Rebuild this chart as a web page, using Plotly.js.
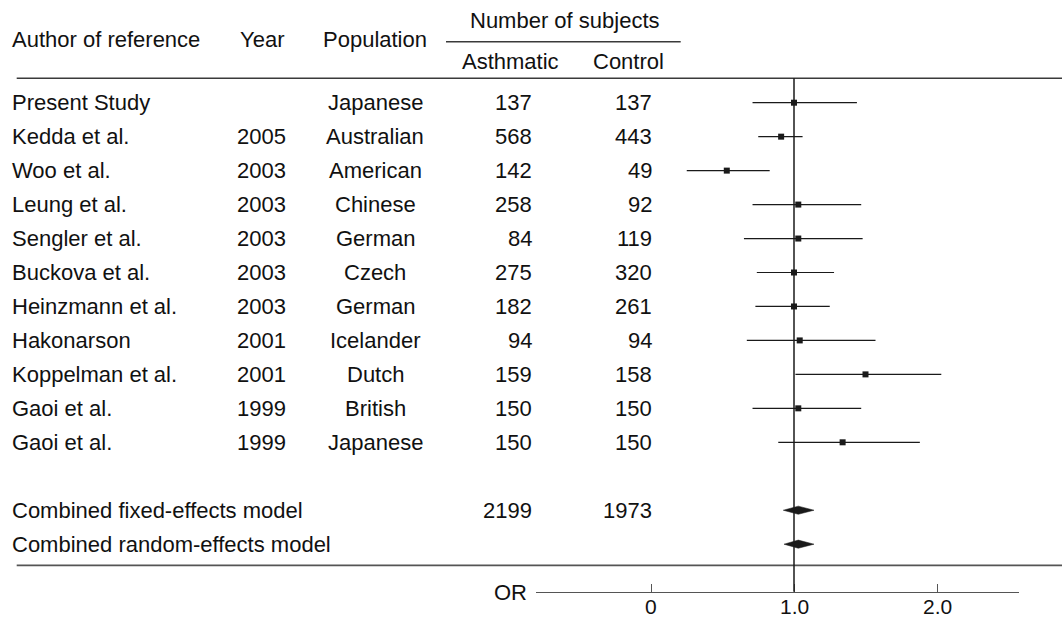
<!DOCTYPE html>
<html>
<head>
<meta charset="utf-8">
<script src="https://cdn.plot.ly/plotly-3.0.1.min.js"></script>
<style>
  html, body { margin: 0; padding: 0; background: #ffffff; }
  #chart { width: 1062px; height: 619px; }
</style>
</head>
<body>
<div id="chart"></div>
<script>
// ---------------- data ----------------
const authors = ['Present Study', 'Kedda et al.', 'Woo et al.', 'Leung et al.', 'Sengler et al.',
  'Buckova et al.', 'Heinzmann et al.', 'Hakonarson', 'Koppelman et al.', 'Gaoi et al.', 'Gaoi et al.'];
const years = ['', '2005', '2003', '2003', '2003', '2003', '2003', '2001', '2001', '1999', '1999'];
const populations = ['Japanese', 'Australian', 'American', 'Chinese', 'German', 'Czech', 'German',
  'Icelander', 'Dutch', 'British', 'Japanese'];
const asthmatic = [137, 568, 142, 258, 84, 275, 182, 94, 159, 150, 150];
const control = [137, 443, 49, 92, 119, 320, 261, 94, 158, 150, 150];
const orEst = [1.00, 0.91, 0.53, 1.03, 1.03, 1.00, 1.00, 1.04, 1.50, 1.03, 1.34];
const ciLow = [0.71, 0.75, 0.25, 0.71, 0.65, 0.74, 0.73, 0.67, 1.01, 0.71, 0.89];
const ciHigh = [1.44, 1.06, 0.83, 1.47, 1.48, 1.28, 1.25, 1.57, 2.03, 1.47, 1.88];

const pooledLabels = ['Combined fixed-effects model', 'Combined random-effects model'];
const pooledAsthmatic = ['2199', ''];
const pooledControl = ['1973', ''];
const pooledEst = [1.03, 1.03];
const pooledLow = [0.925, 0.93];
const pooledHigh = [1.14, 1.14];

const headerAuthor = 'Author of reference';
const headerYear = 'Year';
const headerPopulation = 'Population';
const headerSubjects = 'Number of subjects';
const headerAsthmatic = 'Asthmatic';
const headerControl = 'Control';
const axisLabel = 'OR';
const tickValues = [0, 1, 2];
const tickLabels = ['0', '1.0', '2.0'];

// ---------------- layout helpers ----------------
const W = 1062, H = 619;
const xP = px => px / W;
const yP = px => 1 - px / H;
const ROW0 = 102.7, ROWH = 33.96;
const yTop = -ROW0 / ROWH;
const yBot = (H - ROW0) / ROWH;
const rowOf = px => (px - ROW0) / ROWH;

const FONT = 'Liberation Sans, Arial, Helvetica, sans-serif';
const TXT = '#111111';
const FS = 22;

const n = authors.length;
const pooledRows = pooledLabels.map((_, k) => n + 1 + k);

// ---------------- traces ----------------
const ciX = [], ciY = [];
for (let i = 0; i < n; i++) {
  ciX.push(ciLow[i], ciHigh[i], null);
  ciY.push(i, i, null);
}
const traces = [];
traces.push({
  type: 'scatter', mode: 'lines', x: ciX, y: ciY,
  line: { color: '#1a1a1a', width: 1.2 }, hoverinfo: 'skip', showlegend: false
});
traces.push({
  type: 'scatter', mode: 'markers', x: orEst, y: authors.map((_, i) => i),
  marker: { symbol: 'square', size: 6, color: '#1a1a1a', line: { width: 0 } },
  showlegend: false
});
const dh = 0.12;
pooledLabels.forEach((_, k) => {
  const r = pooledRows[k];
  traces.push({
    type: 'scatter', mode: 'lines', fill: 'toself', fillcolor: '#1a1a1a',
    x: [pooledLow[k], pooledEst[k], pooledHigh[k], pooledEst[k], pooledLow[k]],
    y: [r, r - dh, r, r + dh, r],
    line: { color: '#1a1a1a', width: 0.5 }, showlegend: false
  });
});

// ---------------- annotations ----------------
const ann = [];
function txt(text, xpx, yval, anchor, yref, size) {
  ann.push({
    text: text, x: xP(xpx), xref: 'paper', y: yval, yref: yref || 'y',
    xanchor: anchor, yanchor: 'middle', showarrow: false,
    font: { family: FONT, size: size || FS, color: TXT }
  });
}
// header
txt(headerAuthor, 10, rowOf(39), 'left');
txt(headerYear, 261.5, rowOf(39), 'center');
txt(headerPopulation, 375, rowOf(39), 'center');
txt(headerSubjects, 565, rowOf(20), 'center');
txt(headerAsthmatic, 510, rowOf(61.7), 'center');
txt(headerControl, 628.7, rowOf(61.7), 'center');
// study rows
for (let i = 0; i < n; i++) {
  txt(authors[i], 10, i, 'left');
  if (years[i]) txt(years[i], 261.5, i, 'center');
  txt(populations[i], 375, i, 'center');
  txt(String(asthmatic[i]), 534, i, 'right');
  txt(String(control[i]), 654, i, 'right');
}
// pooled rows
pooledLabels.forEach((lab, k) => {
  const r = pooledRows[k];
  txt(lab, 10, r, 'left');
  if (pooledAsthmatic[k]) txt(pooledAsthmatic[k], 534, r, 'right');
  if (pooledControl[k]) txt(pooledControl[k], 654, r, 'right');
});
// OR label
txt(axisLabel, 529, rowOf(592.7), 'right');
// tick labels placed tight under the OR axis, at the axis' own tick values
tickValues.forEach((v, k) => {
  ann.push({
    text: tickLabels[k], x: v, xref: 'x', y: yP(606), yref: 'paper',
    xanchor: 'center', yanchor: 'middle', showarrow: false,
    font: { family: FONT, size: 21, color: TXT }
  });
});

// ---------------- shapes ----------------
const axisPx = 591.7;
const shapes = [
  // header rule
  { type: 'line', xref: 'paper', yref: 'paper', x0: xP(16.7), x1: 1, y0: yP(78.3), y1: yP(78.3),
    line: { color: '#3a3a3a', width: 1.6 } },
  // under "Number of subjects"
  { type: 'line', xref: 'paper', yref: 'paper', x0: xP(446), x1: xP(680.7), y0: yP(41.7), y1: yP(41.7),
    line: { color: '#3a3a3a', width: 1.6 } },
  // bottom separator
  { type: 'line', xref: 'paper', yref: 'paper', x0: xP(16.7), x1: 1, y0: yP(565.3), y1: yP(565.3),
    line: { color: '#555555', width: 1.8 } },
  // reference line at OR = 1
  { type: 'line', xref: 'x', yref: 'paper', x0: 1, x1: 1, y0: yP(78.3), y1: yP(axisPx),
    line: { color: '#1a1a1a', width: 1.5 } }
];

// ---------------- layout ----------------
const axL = 536, axR = 1019, px0 = 651, pxPerUnit = 143;
const layout = {
  width: W, height: H,
  margin: { l: 0, r: 0, t: 0, b: 0, pad: 0 },
  paper_bgcolor: '#ffffff', plot_bgcolor: 'rgba(0,0,0,0)',
  showlegend: false,
  xaxis: {
    domain: [xP(axL), xP(axR)],
    range: [(axL - px0) / pxPerUnit, (axR - px0) / pxPerUnit],
    anchor: 'free', position: yP(axisPx),
    showline: true, linecolor: '#555555', linewidth: 1.6,
    ticks: 'inside', ticklen: 8, tickwidth: 1, tickcolor: '#555555',
    tickmode: 'array', tickvals: tickValues, ticktext: tickLabels,
    showticklabels: false,
    showgrid: false, zeroline: false, fixedrange: true
  },
  yaxis: {
    domain: [0, 1], range: [yBot, yTop], visible: false,
    showgrid: false, zeroline: false, fixedrange: true
  },
  shapes: shapes,
  annotations: ann
};

Plotly.newPlot('chart', traces, layout, { displayModeBar: false, staticPlot: true });
</script>
</body>
</html>
